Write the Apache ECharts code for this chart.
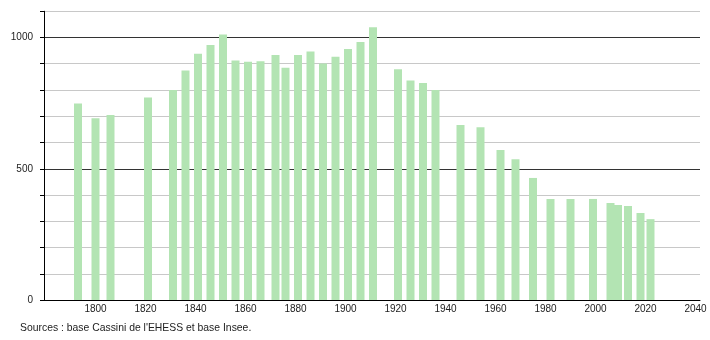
<!DOCTYPE html>
<html>
<head>
<meta charset="utf-8">
<script src="https://cdn.jsdelivr.net/npm/echarts@6/dist/echarts.min.js"></script>
<style>
html,body{margin:0;padding:0;background:#fff;}
#chart{width:710px;height:340px;}
</style>
</head>
<body>
<div id="chart"></div>
<script>
const years = [1793,1800,1806,1821,1831,1836,1841,1846,1851,1856,1861,1866,1872,1876,1881,1886,1891,1896,1901,1906,1911,1921,1926,1931,1936,1946,1954,1962,1968,1975,1982,1990,1999,2006,2009,2013,2018,2022];
const population = [749,692,705,771,800,874,938,971,1011,912,908,910,933,885,933,947,901,927,956,983,1039,879,836,827,800,667,658,571,536,465,385,385,385,370,362,358,331,308];
const xTickLabels = [1800,1820,1840,1860,1880,1900,1920,1940,1960,1980,2000,2020,2040];
const yTickLabels = [0,500,1000];
const sourceText = "Sources : base Cassini de l'EHESS et base Insee.";

const chart = echarts.init(document.getElementById('chart'), null, {renderer:'canvas'});
const splitColors = [];
for (let v = 0; v <= 1100; v += 100) splitColors.push(yTickLabels.indexOf(v) >= 0 ? '#333333' : '#c8c8c8');

chart.setOption({
  animation: false,
  backgroundColor: '#ffffff',
  grid: {left: 44, right: 10, top: 11.25, bottom: 40, containLabel: false},
  xAxis: {
    type: 'value',
    min: 1779.4,
    max: 2041.8,
    axisLine: {show: true, lineStyle: {color: '#000', width: 1}},
    axisTick: {show: false},
    splitLine: {show: false},
    axisLabel: {
      customValues: xTickLabels,
      color: '#222', fontSize: 10, fontFamily: 'Liberation Sans, Arial, sans-serif', margin: 4,
      formatter: v => String(v)
    }
  },
  yAxis: {
    type: 'value',
    min: 0, max: 1100, interval: 100,
    axisLine: {show: true, lineStyle: {color: '#000', width: 1}},
    axisTick: {show: true, length: 4, lineStyle: {color: '#000'}},
    splitLine: {show: true, lineStyle: {color: splitColors, width: 1}},
    axisLabel: {
      color: '#222', fontSize: 10, fontFamily: 'Liberation Sans, Arial, sans-serif', margin: 11,
      formatter: v => (yTickLabels.indexOf(v) >= 0 ? String(v) : '')
    }
  },
  series: [{
    type: 'bar',
    barWidth: 8,
    itemStyle: {color: '#b3e4b3'},
    data: years.map((y, i) => [y, population[i]])
  }],
  graphic: [{
    type: 'text',
    left: 20, top: 323.5,
    style: {text: sourceText, fill: '#222', font: '10.4px "Liberation Sans", Arial, sans-serif'}
  }]
});
</script>
</body>
</html>
